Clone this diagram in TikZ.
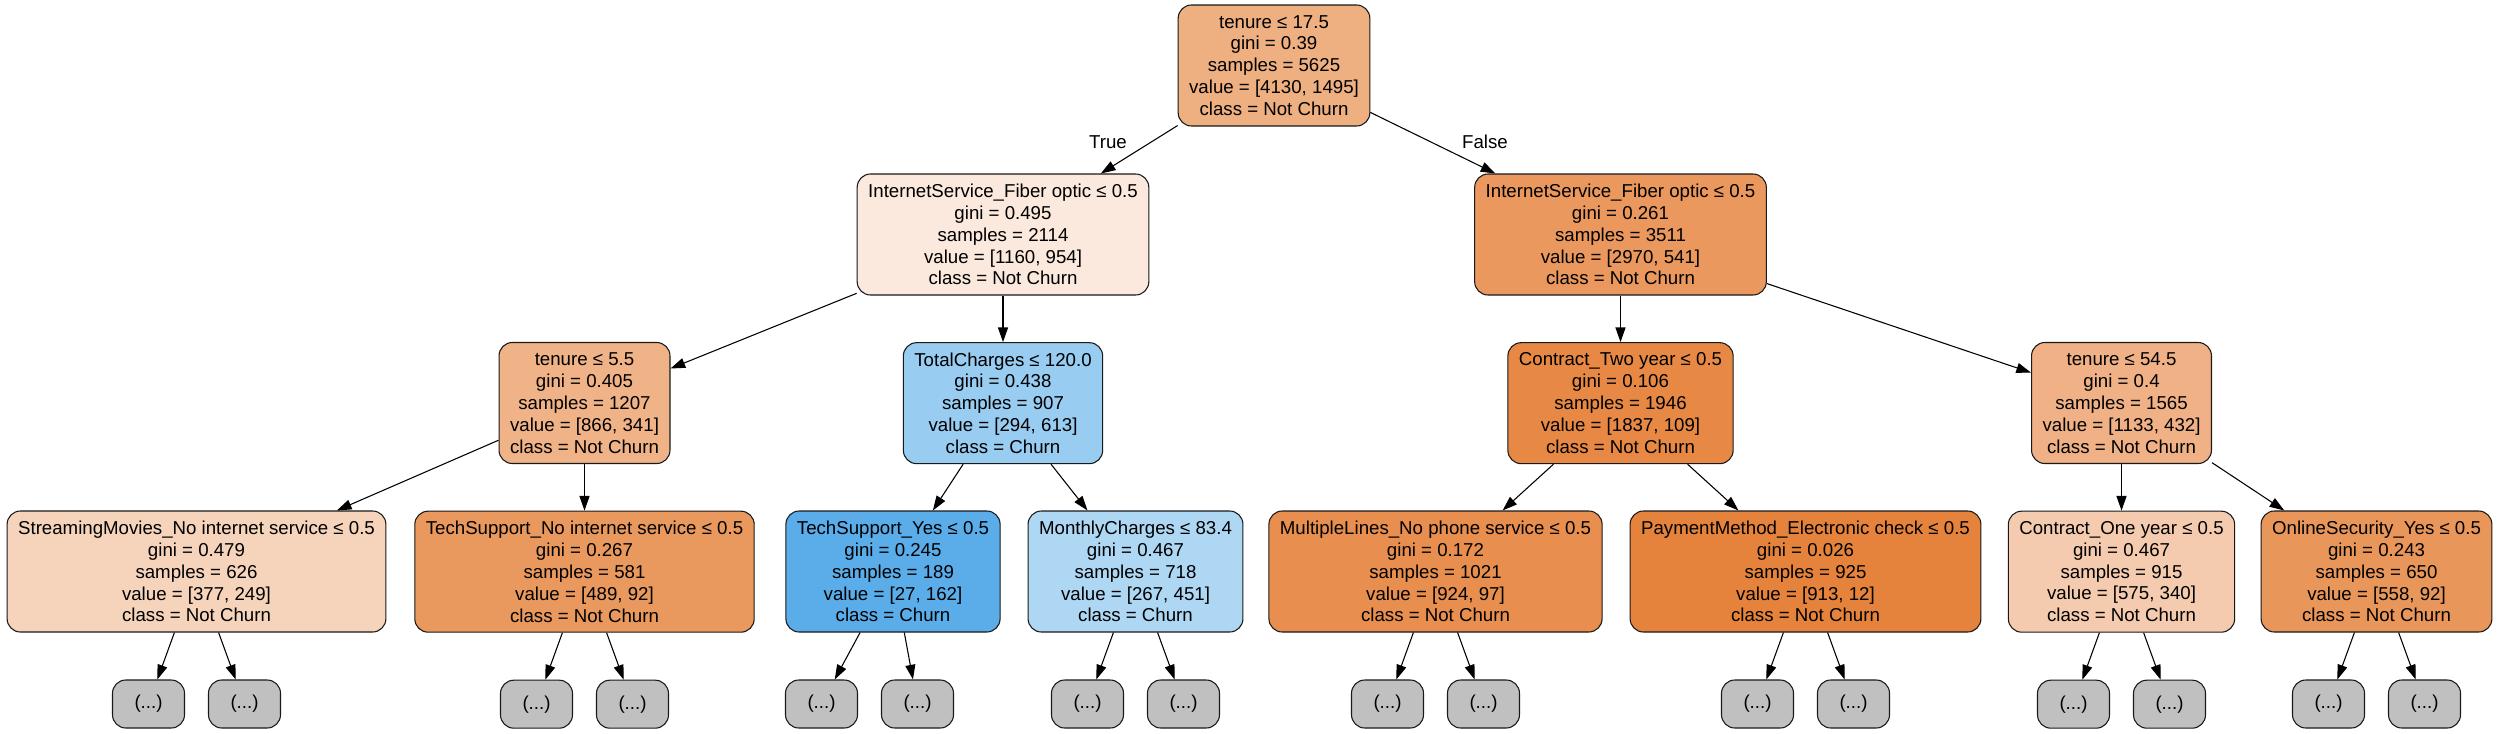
\documentclass[tikz,border=0pt]{standalone}
\usepackage{fontspec}
\setmainfont{Liberation Sans}
\usetikzlibrary{arrows.meta,positioning,calc}

\definecolor{rootfill}{RGB}{238,175,129}
\definecolor{fiberLfill}{RGB}{250,233,220}
\definecolor{fiberRfill}{RGB}{234,152,93}
\definecolor{tenureAfill}{RGB}{239,179,135}
\definecolor{chargesfill}{RGB}{152,204,241}
\definecolor{twoYearfill}{RGB}{231,137,69}
\definecolor{tenureBfill}{RGB}{239,177,133}
\definecolor{moviesfill}{RGB}{246,212,188}
\definecolor{techNoNetfill}{RGB}{234,153,94}
\definecolor{techYesfill}{RGB}{90,173,233}
\definecolor{monthlyfill}{RGB}{174,215,244}
\definecolor{phonefill}{RGB}{232,142,78}
\definecolor{paymentfill}{RGB}{229,131,60}
\definecolor{oneYearfill}{RGB}{244,203,174}
\definecolor{securityfill}{RGB}{233,150,90}
\definecolor{leafgray}{RGB}{192,192,192}

\tikzset{
  split/.style={draw=black!90, line width=0.8pt, rounded corners=10pt, align=center,
    minimum height=90.75pt, inner xsep=8.25pt, font=\fontsize{14}{16.4}\selectfont},
  leaf/.style={draw=black!90, line width=0.8pt, rounded corners=10pt, fill=leafgray,
    minimum width=54pt, minimum height=36pt, font=\fontsize{14}{16.4}\selectfont},
  edgelabel/.style={font=\fontsize{14}{16.4}\selectfont},
  branch/.style={->, draw=black, line width=0.8pt}
}

\begin{document}
\begin{tikzpicture}[x=0.75pt, y=-0.75pt, node distance=126.5pt, >={Triangle[length=11pt,width=7.5pt]}]
      \useasboundingbox (0,0) rectangle (2499,733);

      \node[split, fill=rootfill] (root) at (1274,65.5)
        {tenure ≤ 17.5\\gini = 0.39\\samples = 5625\\value = [4130, 1495]\\class = Not Churn};

      \node[split, fill=fiberLfill] (fiberL) at (1003,234.5)
        {InternetService\_Fiber optic ≤ 0.5\\gini = 0.495\\samples = 2114\\value = [1160, 954]\\class = Not Churn};
      \node[split, fill=fiberRfill] (fiberR) at (1620.5,234.5)
        {InternetService\_Fiber optic ≤ 0.5\\gini = 0.261\\samples = 3511\\value = [2970, 541]\\class = Not Churn};

      \node[split, fill=tenureAfill] (tenureA) at (584.5,403)
        {tenure ≤ 5.5\\gini = 0.405\\samples = 1207\\value = [866, 341]\\class = Not Churn};
      \node[split, fill=chargesfill, below of=fiberL] (charges)
        {TotalCharges ≤ 120.0\\gini = 0.438\\samples = 907\\value = [294, 613]\\class = Churn};
      \node[split, fill=twoYearfill, below of=fiberR] (twoYear)
        {Contract\_Two year ≤ 0.5\\gini = 0.106\\samples = 1946\\value = [1837, 109]\\class = Not Churn};
      \node[split, fill=tenureBfill] (tenureB) at (2121.5,403)
        {tenure ≤ 54.5\\gini = 0.4\\samples = 1565\\value = [1133, 432]\\class = Not Churn};

      \node[split, fill=moviesfill] (movies) at (196.5,571.5)
        {StreamingMovies\_No internet service ≤ 0.5\\gini = 0.479\\samples = 626\\value = [377, 249]\\class = Not Churn};
      \node[split, fill=techNoNetfill, below of=tenureA] (techNoNet)
        {TechSupport\_No internet service ≤ 0.5\\gini = 0.267\\samples = 581\\value = [489, 92]\\class = Not Churn};
      \node[split, fill=techYesfill] (techYes) at (893,571.5)
        {TechSupport\_Yes ≤ 0.5\\gini = 0.245\\samples = 189\\value = [27, 162]\\class = Churn};
      \node[split, fill=monthlyfill] (monthly) at (1135.5,571.5)
        {MonthlyCharges ≤ 83.4\\gini = 0.467\\samples = 718\\value = [267, 451]\\class = Churn};
      \node[split, fill=phonefill] (phone) at (1435.5,571.5)
        {MultipleLines\_No phone service ≤ 0.5\\gini = 0.172\\samples = 1021\\value = [924, 97]\\class = Not Churn};
      \node[split, fill=paymentfill] (payment) at (1805.5,571.5)
        {PaymentMethod\_Electronic check ≤ 0.5\\gini = 0.026\\samples = 925\\value = [913, 12]\\class = Not Churn};
      \node[split, fill=oneYearfill, below of=tenureB] (oneYear)
        {Contract\_One year ≤ 0.5\\gini = 0.467\\samples = 915\\value = [575, 340]\\class = Not Churn};
      \node[split, fill=securityfill] (security) at (2376.5,571.5)
        {OnlineSecurity\_Yes ≤ 0.5\\gini = 0.243\\samples = 650\\value = [558, 92]\\class = Not Churn};

      % truncated subtrees (\s shifts the pair sideways)
      \foreach \p/\s in {movies/0,techNoNet/0,techYes/-23.5,monthly/0,phone/0,payment/0,oneYear/0,security/0} {
        \node[leaf] (\p-l) at ($(\p)+(\s-48,132.5)$) {(...)};
        \node[leaf] (\p-r) at ($(\p)+(\s+48,132.5)$) {(...)};
        \draw[branch] (\p) to (\p-l);
        \draw[branch] (\p) to (\p-r);
      }

      \node[edgelabel] (trueLbl) at (1108,142) {True};
      \node[edgelabel] (falseLbl) at (1485,142) {False};

      \draw[branch] (root) to (fiberL);
      \draw[branch] (root) to (fiberR);

      \draw[branch] (fiberL) to (tenureA);
      \draw[branch] (fiberL) to (charges);
      \draw[branch] (fiberR) to (twoYear);
      \draw[branch] (fiberR) to (tenureB);

      \draw[branch] (tenureA) to (movies);
      \draw[branch] (tenureA) to (techNoNet);
      \draw[branch] (charges) to (techYes);
      \draw[branch] (charges) to (monthly);
      \draw[branch] (twoYear) to (phone);
      \draw[branch] (twoYear) to (payment);
      \draw[branch] (tenureB) to (oneYear);
      \draw[branch] (tenureB) to (security);

\end{tikzpicture}
\end{document}
